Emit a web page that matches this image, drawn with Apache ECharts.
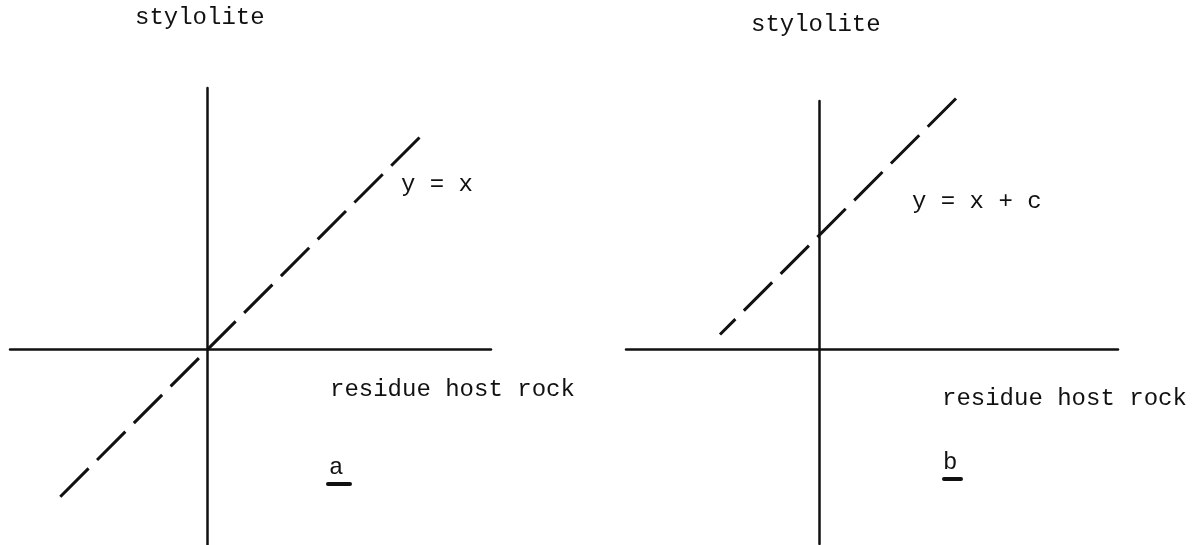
<!DOCTYPE html>
<html>
<head>
<meta charset="utf-8">
<script src="https://cdn.jsdelivr.net/npm/echarts@6/dist/echarts.min.js"></script>
<style>
  html, body { margin: 0; padding: 0; background: #fff; }
  #main { width: 1194px; height: 545px; }
</style>
</head>
<body>
<div id="main"></div>
<script>
// panel a : y = x  (dashed, through the origin)
var lineAx = [21.2, -14.8];
var lineAy = [21.2, -14.8];
// panel b : y = x + c  (c ~ 11.35)
var lineBx = [13.7, -9.9];
var lineBy = [25.05, 1.45];

var axisTitleY = 'stylolite';
var axisTitleX = 'residue host rock';
var eqA = 'y = x';
var eqB = 'y = x + c';
var panelNames = ['a', 'b'];

var dom = document.getElementById('main');
var myChart = echarts.init(dom, null, { renderer: 'canvas' });

var font = '24px "Liberation Mono", "DejaVu Sans Mono", monospace';
var ink = '#111';

function pairs(xs, ys) {
    return xs.map(function (x, i) { return [x, ys[i]]; });
}

function plainAxis(idx, min, max) {
    return {
        type: 'value',
        gridIndex: idx,
        min: min,
        max: max,
        axisLine: { onZero: true, lineStyle: { color: ink, width: 2.5 } },
        axisTick: { show: false },
        axisLabel: { show: false },
        splitLine: { show: false }
    };
}

function txt(x, y, s) {
    return {
        type: 'text',
        x: x,
        y: y,
        style: { text: s, font: font, fill: ink, textVerticalAlign: 'middle' }
    };
}

function underline(x, y, w) {
    return {
        type: 'rect',
        shape: { x: x, y: y, width: w, height: 4, r: 2 },
        style: { fill: ink }
    };
}

var option = {
    backgroundColor: '#fff',
    animation: false,
    grid: [
        { left: 10, right: 703, top: 88, bottom: 0 },
        { left: 626, right: 76, top: 101, bottom: 1 }
    ],
    xAxis: [
        plainAxis(0, -19.75, 28.35),
        plainAxis(1, -19.3, 29.9)
    ],
    yAxis: [
        plainAxis(0, -19.55, 26.15),
        plainAxis(1, -19.5, 24.8)
    ],
    series: [
        {
            name: eqA,
            type: 'line',
            xAxisIndex: 0,
            yAxisIndex: 0,
            data: pairs(lineAx, lineAy),
            showSymbol: false,
            clip: false,
            lineStyle: { color: ink, width: 3, type: [40, 12], cap: 'butt' }
        },
        {
            name: eqB,
            type: 'line',
            xAxisIndex: 1,
            yAxisIndex: 1,
            data: pairs(lineBx, lineBy),
            showSymbol: false,
            clip: false,
            lineStyle: { color: ink, width: 3, type: [40, 12], cap: 'butt' }
        }
    ],
    graphic: [
        txt(135, 18, axisTitleY),
        txt(401, 185, eqA),
        txt(330, 390, axisTitleX),
        txt(329, 468, panelNames[0]),
        underline(326, 482, 26),

        txt(751, 25, axisTitleY),
        txt(912, 202, eqB),
        txt(942, 399, axisTitleX),
        txt(943, 463, panelNames[1]),
        underline(942, 477, 21)
    ]
};

myChart.setOption(option);
window.addEventListener('resize', myChart.resize);
</script>
</body>
</html>
